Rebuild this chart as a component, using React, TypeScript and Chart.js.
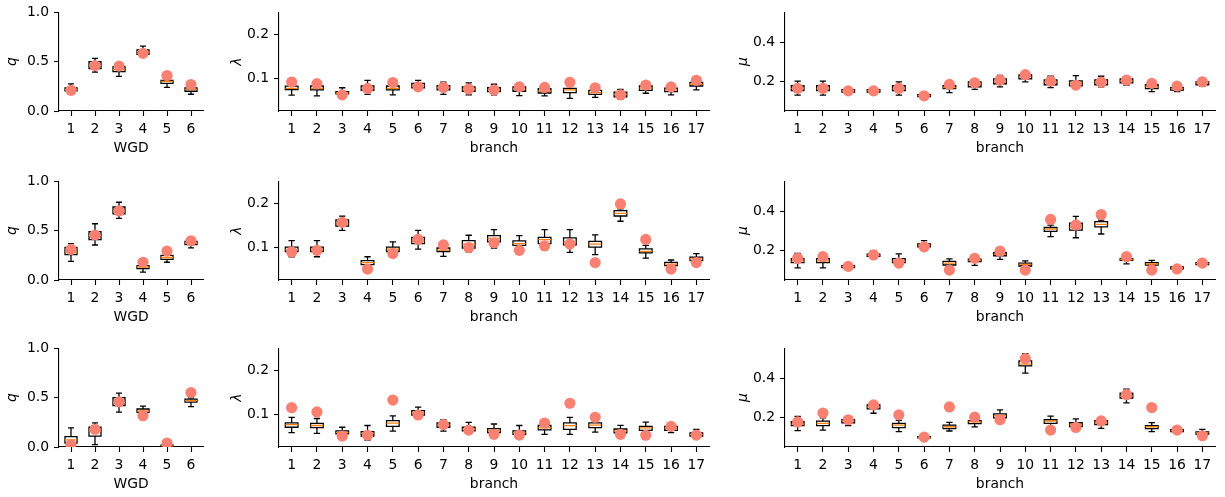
import React, { useEffect, useRef } from "react";
import { Chart, registerables } from "chart.js";

Chart.register(...registerables);

// ---- tick labels ----
const WGD_LABELS = ["1", "2", "3", "4", "5", "6"];
const BRANCH_LABELS = ["1", "2", "3", "4", "5", "6", "7", "8", "9", "10", "11", "12", "13", "14", "15", "16", "17"];
const Q_TICKS = [0.0, 0.5, 1.0];
const Q_TICK_LABELS = ["0.0", "0.5", "1.0"];
const LAMBDA_TICKS = [0.1, 0.2];
const LAMBDA_TICK_LABELS = ["0.1", "0.2"];
const MU_TICKS = [0.2, 0.4];
const MU_TICK_LABELS = ["0.2", "0.4"];

// ---- posterior summaries: [lower whisker, Q1, median, Q3, upper whisker] ----
// ---- and the true values shown as dots ----

// replicate 1
const Q_BOX_1 = [
  [0.19, 0.205, 0.22, 0.235, 0.275],
  [0.395, 0.43, 0.465, 0.5, 0.533],
  [0.35, 0.40, 0.42, 0.45, 0.47],
  [0.55, 0.575, 0.6, 0.62, 0.657],
  [0.24, 0.28, 0.30, 0.31, 0.35],
  [0.17, 0.2, 0.22, 0.235, 0.26],
];
const Q_TRUE_1 = [0.21, 0.46, 0.455, 0.585, 0.36, 0.268];

const LAMBDA_BOX_1 = [
  [0.061, 0.074, 0.0765, 0.0816, 0.09],
  [0.0596, 0.073, 0.0765, 0.082, 0.09],
  [0.058, 0.064, 0.066, 0.069, 0.078],
  [0.063, 0.072, 0.077, 0.082, 0.095],
  [0.062, 0.073, 0.0765, 0.082, 0.092],
  [0.072, 0.078, 0.083, 0.088, 0.095],
  [0.063, 0.073, 0.078, 0.083, 0.091],
  [0.062, 0.07, 0.075, 0.08, 0.089],
  [0.062, 0.069, 0.073, 0.078, 0.086],
  [0.06, 0.07, 0.075, 0.08, 0.088],
  [0.0596, 0.066, 0.07, 0.076, 0.084],
  [0.054, 0.067, 0.073, 0.0765, 0.088],
  [0.056, 0.063, 0.067, 0.072, 0.08],
  [0.052, 0.057, 0.063, 0.068, 0.074],
  [0.0655, 0.072, 0.077, 0.082, 0.088],
  [0.062, 0.069, 0.073, 0.077, 0.085],
  [0.073, 0.082, 0.086, 0.09, 0.096],
];
const LAMBDA_TRUE_1 = [0.091, 0.0875, 0.0618, 0.0765, 0.09, 0.08, 0.0787, 0.075, 0.073, 0.08, 0.0787, 0.0904, 0.078, 0.062, 0.084, 0.08, 0.095];

const MU_BOX_1 = [
  [0.132, 0.155, 0.167, 0.18, 0.203],
  [0.132, 0.155, 0.167, 0.18, 0.203],
  [0.14, 0.148, 0.155, 0.16, 0.165],
  [0.14, 0.148, 0.155, 0.16, 0.165],
  [0.132, 0.155, 0.167, 0.18, 0.2],
  [0.12, 0.125, 0.13, 0.135, 0.14],
  [0.145, 0.165, 0.171, 0.18, 0.19],
  [0.162, 0.175, 0.19, 0.2, 0.21],
  [0.174, 0.19, 0.2, 0.215, 0.233],
  [0.2, 0.215, 0.225, 0.235, 0.245],
  [0.17, 0.185, 0.2, 0.21, 0.228],
  [0.165, 0.18, 0.195, 0.205, 0.231],
  [0.174, 0.185, 0.198, 0.21, 0.228],
  [0.183, 0.195, 0.205, 0.215, 0.225],
  [0.15, 0.165, 0.175, 0.185, 0.2],
  [0.15, 0.158, 0.165, 0.17, 0.185],
  [0.178, 0.185, 0.195, 0.2, 0.21],
];
const MU_TRUE_1 = [0.167, 0.167, 0.154, 0.154, 0.167, 0.129, 0.187, 0.195, 0.208, 0.236, 0.203, 0.183, 0.198, 0.208, 0.192, 0.178, 0.2];

// replicate 2
const Q_BOX_2 = [
  [0.189, 0.257, 0.283, 0.33, 0.368],
  [0.355, 0.41, 0.45, 0.49, 0.57],
  [0.625, 0.67, 0.70, 0.74, 0.788],
  [0.08, 0.115, 0.13, 0.145, 0.19],
  [0.18, 0.21, 0.228, 0.25, 0.3],
  [0.326, 0.36, 0.375, 0.39, 0.41],
];
const Q_TRUE_2 = [0.31, 0.456, 0.70, 0.18, 0.293, 0.397];

const LAMBDA_BOX_2 = [
  [0.078, 0.09, 0.094, 0.1, 0.1147],
  [0.078, 0.09, 0.095, 0.1, 0.1147],
  [0.138, 0.148, 0.153, 0.162, 0.1706],
  [0.057, 0.06, 0.0647, 0.069, 0.078],
  [0.08, 0.09, 0.0956, 0.1, 0.1118],
  [0.0956, 0.108, 0.114, 0.122, 0.138],
  [0.079, 0.09, 0.093, 0.098, 0.109],
  [0.089, 0.098, 0.107, 0.115, 0.127],
  [0.098, 0.112, 0.12, 0.126, 0.14],
  [0.094, 0.104, 0.108, 0.114, 0.126],
  [0.094, 0.108, 0.117, 0.122, 0.14],
  [0.088, 0.105, 0.112, 0.121, 0.14],
  [0.083, 0.1, 0.1066, 0.113, 0.128],
  [0.159, 0.171, 0.177, 0.183, 0.187],
  [0.075, 0.087, 0.0904, 0.096, 0.104],
  [0.053, 0.058, 0.061, 0.065, 0.0706],
  [0.064, 0.069, 0.073, 0.077, 0.0853],
];
const LAMBDA_TRUE_2 = [0.089, 0.0926, 0.1566, 0.05, 0.0853, 0.1176, 0.105, 0.099, 0.11, 0.0926, 0.103, 0.107, 0.0647, 0.1985, 0.1176, 0.05, 0.0647];

const MU_BOX_2 = [
  [0.113, 0.14, 0.149, 0.16, 0.187],
  [0.113, 0.14, 0.149, 0.16, 0.19],
  [0.11, 0.115, 0.12, 0.125, 0.13],
  [0.165, 0.172, 0.178, 0.183, 0.2],
  [0.12, 0.14, 0.148, 0.16, 0.184],
  [0.21, 0.22, 0.227, 0.235, 0.252],
  [0.12, 0.128, 0.138, 0.146, 0.159],
  [0.126, 0.145, 0.152, 0.158, 0.17],
  [0.157, 0.175, 0.182, 0.19, 0.2],
  [0.115, 0.123, 0.131, 0.138, 0.149],
  [0.272, 0.298, 0.31, 0.318, 0.33],
  [0.266, 0.305, 0.318, 0.34, 0.374],
  [0.285, 0.321, 0.334, 0.348, 0.355],
  [0.134, 0.152, 0.156, 0.16, 0.175],
  [0.12, 0.128, 0.133, 0.14, 0.151],
  [0.103, 0.108, 0.113, 0.118, 0.122],
  [0.125, 0.13, 0.135, 0.14, 0.145],
];
const MU_TRUE_2 = [0.162, 0.17, 0.121, 0.179, 0.138, 0.22, 0.102, 0.162, 0.198, 0.102, 0.359, 0.331, 0.384, 0.17, 0.102, 0.108, 0.138];

// replicate 3
const Q_BOX_3 = [
  [0.005, 0.04, 0.072, 0.105, 0.193],
  [0.025, 0.111, 0.16, 0.2, 0.245],
  [0.353, 0.42, 0.45, 0.5, 0.546],
  [0.33, 0.35, 0.366, 0.385, 0.415],
  [0.0, 0.005, 0.012, 0.02, 0.04],
  [0.41, 0.455, 0.47, 0.485, 0.497],
];
const Q_TRUE_3 = [0.023, 0.18, 0.457, 0.317, 0.04, 0.552];

const LAMBDA_BOX_3 = [
  [0.0577, 0.07, 0.076, 0.08, 0.0927],
  [0.056, 0.069, 0.074, 0.079, 0.09],
  [0.05, 0.055, 0.058, 0.062, 0.07],
  [0.041, 0.05, 0.056, 0.06, 0.074],
  [0.061, 0.072, 0.0796, 0.085, 0.096],
  [0.093, 0.098, 0.103, 0.108, 0.116],
  [0.061, 0.07, 0.075, 0.08, 0.087],
  [0.058, 0.062, 0.066, 0.07, 0.081],
  [0.052, 0.058, 0.063, 0.067, 0.0774],
  [0.048, 0.054, 0.058, 0.062, 0.074],
  [0.054, 0.064, 0.0686, 0.074, 0.0796],
  [0.054, 0.065, 0.0737, 0.08, 0.0927],
  [0.059, 0.069, 0.075, 0.08, 0.0927],
  [0.05, 0.057, 0.061, 0.066, 0.0745],
  [0.061, 0.063, 0.0686, 0.072, 0.0818],
  [0.058, 0.063, 0.068, 0.072, 0.08],
  [0.046, 0.05, 0.054, 0.057, 0.065],
];
const LAMBDA_TRUE_3 = [0.1146, 0.105, 0.05, 0.0518, 0.132, 0.098, 0.076, 0.0635, 0.054, 0.052, 0.0796, 0.1248, 0.0927, 0.054, 0.0518, 0.072, 0.052];

const MU_BOX_3 = [
  [0.135, 0.16, 0.168, 0.18, 0.2065],
  [0.138, 0.16, 0.172, 0.183, 0.2],
  [0.16, 0.175, 0.183, 0.19, 0.2],
  [0.223, 0.245, 0.255, 0.265, 0.275],
  [0.13, 0.15, 0.1626, 0.172, 0.187],
  [0.095, 0.098, 0.101, 0.105, 0.11],
  [0.133, 0.145, 0.1545, 0.163, 0.177],
  [0.154, 0.17, 0.179, 0.185, 0.2],
  [0.19, 0.2, 0.211, 0.22, 0.24],
  [0.426, 0.463, 0.472, 0.488, 0.525],
  [0.155, 0.172, 0.183, 0.19, 0.208],
  [0.145, 0.155, 0.166, 0.175, 0.195],
  [0.146, 0.165, 0.175, 0.185, 0.195],
  [0.276, 0.3, 0.31, 0.325, 0.345],
  [0.13, 0.145, 0.1545, 0.16, 0.176],
  [0.125, 0.13, 0.135, 0.14, 0.145],
  [0.11, 0.118, 0.124, 0.128, 0.141],
];
const MU_TRUE_3 = [0.179, 0.224, 0.19, 0.265, 0.215, 0.102, 0.255, 0.203, 0.19, 0.5, 0.138, 0.151, 0.184, 0.317, 0.252, 0.138, 0.109];

// ---- styling ----
const FONT = "'DejaVu Sans', 'Liberation Sans', sans-serif";
const DOT_COLOR = "#FA8072";
const MEDIAN_COLOR = "#FF7F0E";

type Column = {
  left: number;
  right: number;
  xLabels: string[];
  xTitle: string;
  yTitle: string;
  yMin: number;
  yMax: number;
  yTicks: number[];
  yTickLabels: string[];
  yTitlePad: number;
};

const COLUMNS: Column[] = [
  { left: 59, right: 203, xLabels: WGD_LABELS, xTitle: "WGD", yTitle: "q", yMin: 0, yMax: 1, yTicks: Q_TICKS, yTickLabels: Q_TICK_LABELS, yTitlePad: 5 },
  { left: 279, right: 709, xLabels: BRANCH_LABELS, xTitle: "branch", yTitle: "λ", yMin: 0.025, yMax: 0.25, yTicks: LAMBDA_TICKS, yTickLabels: LAMBDA_TICK_LABELS, yTitlePad: 10 },
  { left: 785, right: 1215, xLabels: BRANCH_LABELS, xTitle: "branch", yTitle: "μ", yMin: 0.052, yMax: 0.552, yTicks: MU_TICKS, yTickLabels: MU_TICK_LABELS, yTitlePad: 10 },
];

const ROWS = [
  { top: 9, bottom: 111 },
  { top: 178, bottom: 280 },
  { top: 345, bottom: 447 },
];

const PANELS = [
  { row: 0, col: 0, boxes: Q_BOX_1, dots: Q_TRUE_1 },
  { row: 0, col: 1, boxes: LAMBDA_BOX_1, dots: LAMBDA_TRUE_1 },
  { row: 0, col: 2, boxes: MU_BOX_1, dots: MU_TRUE_1 },
  { row: 1, col: 0, boxes: Q_BOX_2, dots: Q_TRUE_2 },
  { row: 1, col: 1, boxes: LAMBDA_BOX_2, dots: LAMBDA_TRUE_2 },
  { row: 1, col: 2, boxes: MU_BOX_2, dots: MU_TRUE_2 },
  { row: 2, col: 0, boxes: Q_BOX_3, dots: Q_TRUE_3 },
  { row: 2, col: 1, boxes: LAMBDA_BOX_3, dots: LAMBDA_TRUE_3 },
  { row: 2, col: 2, boxes: MU_BOX_3, dots: MU_TRUE_3 },
];

const Y_AXIS_W = 60;
const X_AXIS_H = 48;
const PAD_TOP = 10;
const PAD_RIGHT = 10;

// Draws whiskers, caps, boxes and medians from the summary arrays.
function boxPlotPlugin(boxes: number[][]) {
  return {
    id: "boxplot",
    beforeDatasetsDraw(chart: any) {
      const xs = chart.scales.x;
      const ys = chart.scales.y;
      const ctx: CanvasRenderingContext2D = chart.ctx;
      const area = chart.chartArea;
      ctx.save();
      ctx.beginPath();
      ctx.rect(area.left, area.top, area.right - area.left, area.bottom - area.top);
      ctx.clip();
      const halfBox = xs.getPixelForValue(1.25) - xs.getPixelForValue(1);
      const halfCap = halfBox / 2;
      ctx.lineCap = "butt";
      boxes.forEach((b, i) => {
        const cx = xs.getPixelForValue(i + 1);
        const [lo, q1, med, q3, hi] = b.map((v) => ys.getPixelForValue(v));
        ctx.strokeStyle = "#000";
        ctx.lineWidth = 1.3;
        ctx.beginPath();
        ctx.moveTo(cx, q1);
        ctx.lineTo(cx, lo);
        ctx.moveTo(cx, q3);
        ctx.lineTo(cx, hi);
        ctx.moveTo(cx - halfCap, lo);
        ctx.lineTo(cx + halfCap, lo);
        ctx.moveTo(cx - halfCap, hi);
        ctx.lineTo(cx + halfCap, hi);
        ctx.stroke();
        ctx.beginPath();
        ctx.rect(cx - halfBox, q3, 2 * halfBox, q1 - q3);
        ctx.stroke();
        ctx.strokeStyle = MEDIAN_COLOR;
        ctx.beginPath();
        ctx.moveTo(cx - halfBox, med);
        ctx.lineTo(cx + halfBox, med);
        ctx.stroke();
      });
      ctx.restore();
    },
  };
}

function Panel({ row, col, boxes, dots }: { row: number; col: number; boxes: number[][]; dots: number[] }) {
  const ref = useRef<HTMLCanvasElement>(null);
  const c = COLUMNS[col];
  const r = ROWS[row];
  const left = c.left - Y_AXIS_W;
  const top = r.top - PAD_TOP;
  const width = c.right - c.left + Y_AXIS_W + PAD_RIGHT;
  const height = r.bottom - r.top + PAD_TOP + X_AXIS_H;

  useEffect(() => {
    if (!ref.current) return;
    const n = c.xLabels.length;
    const chart = new Chart(ref.current, {
      type: "scatter",
      data: {
        datasets: [
          {
            data: dots.map((v, i) => ({ x: i + 1, y: v })),
            backgroundColor: DOT_COLOR,
            borderWidth: 0,
            pointRadius: 5.6,
            pointHoverRadius: 5.6,
          },
        ],
      },
      options: {
        responsive: false,
        animation: false,
        devicePixelRatio: 1,
        events: [],
        layout: { padding: { top: PAD_TOP, right: PAD_RIGHT, left: 0, bottom: 0 } },
        plugins: { legend: { display: false }, tooltip: { enabled: false } },
        scales: {
          x: {
            type: "linear",
            min: 0.5,
            max: n + 0.5,
            afterBuildTicks: (scale: any) => {
              scale.ticks = c.xLabels.map((_, i) => ({ value: i + 1 }));
            },
            afterFit: (scale: any) => {
              scale.height = X_AXIS_H;
            },
            ticks: {
              autoSkip: false,
              maxRotation: 0,
              padding: 5,
              color: "#000",
              font: { family: FONT, size: 13.9 },
              callback: (_v: any, i: number) => c.xLabels[i],
            },
            grid: {
              display: true,
              drawOnChartArea: false,
              drawTicks: true,
              tickLength: 5,
              tickWidth: 1.1,
              tickColor: "#000",
              color: "#000",
            },
            border: { display: true, color: "#000", width: 1.1 },
            title: {
              display: true,
              text: c.xTitle,
              color: "#000",
              font: { family: FONT, size: 13.9 },
              padding: { top: 0, bottom: 2.7 },
            },
          },
          y: {
            type: "linear",
            min: c.yMin,
            max: c.yMax,
            afterBuildTicks: (scale: any) => {
              scale.ticks = c.yTicks.map((v) => ({ value: v }));
            },
            afterFit: (scale: any) => {
              scale.width = Y_AXIS_W;
            },
            ticks: {
              padding: 5,
              color: "#000",
              font: { family: FONT, size: 13.9 },
              callback: (_v: any, i: number) => c.yTickLabels[i],
            },
            grid: {
              display: true,
              drawOnChartArea: false,
              drawTicks: true,
              tickLength: 5,
              tickWidth: 1.1,
              tickColor: "#000",
              color: "#000",
            },
            border: { display: true, color: "#000", width: 1.1 },
            title: {
              display: true,
              text: c.yTitle,
              color: "#000",
              font: { family: FONT, size: 13.9, style: "italic" },
              padding: { top: c.yTitlePad, bottom: 0 },
            },
          },
        },
      },
      plugins: [boxPlotPlugin(boxes)],
    });
    return () => chart.destroy();
  }, []);

  return (
    <canvas
      ref={ref}
      width={width}
      height={height}
      style={{ position: "absolute", left, top, width, height }}
    />
  );
}

export default function App() {
  return (
    <div style={{ position: "absolute", left: 0, top: 0, width: 1225, height: 497, background: "#fff" }}>
      {PANELS.map((p, i) => (
        <Panel key={i} row={p.row} col={p.col} boxes={p.boxes} dots={p.dots} />
      ))}
    </div>
  );
}
